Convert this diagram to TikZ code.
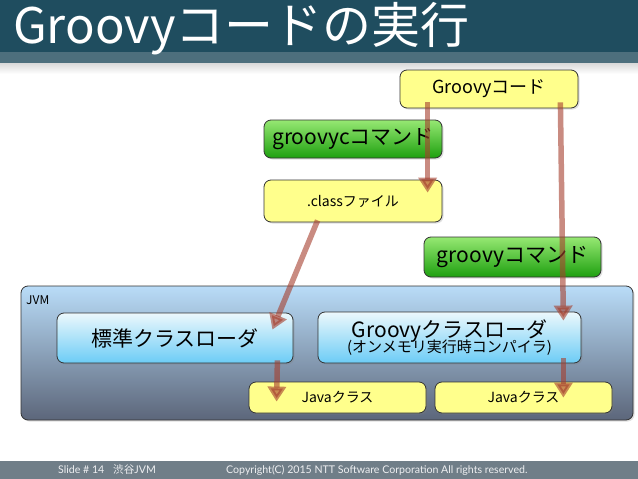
\documentclass[tikz,border=0pt]{standalone}
\usepackage{fontspec}
\setmainfont{Noto Sans CJK JP}
\newfontfamily\footfont{Lato}
\usetikzlibrary{arrows.meta,shadows}

\definecolor{titlebar}{RGB}{31,77,95}
\definecolor{titleband}{RGB}{77,111,125}
\definecolor{footbar}{RGB}{112,126,136}
\definecolor{codeyellow}{RGB}{255,255,140}
\definecolor{cmdtop}{RGB}{150,232,115}
\definecolor{cmdbottom}{RGB}{30,160,15}
\definecolor{jvmtop}{RGB}{185,220,248}
\definecolor{jvmbottom}{RGB}{92,102,122}
\definecolor{cltop}{RGB}{236,248,252}
\definecolor{clbottom}{RGB}{108,204,246}
\definecolor{flowred}{RGB}{165,62,45}

\newcommand{\fs}[1]{\fontsize{#1}{#1}\selectfont}

\begin{document}
\begin{tikzpicture}[x=1pt, y=-1pt,
    box/.style={draw=black!80, line width=0.8pt, rounded corners=7pt, align=center, inner sep=0pt,
      drop shadow={shadow xshift=1.5pt, shadow yshift=-1.5pt, opacity=0.25}},
    filebox/.style={box, fill=codeyellow},
    cmdbox/.style={box, top color=cmdtop, bottom color=cmdbottom},
    loaderbox/.style={box, top color=cltop, bottom color=clbottom},
    flow/.style={line width=5.5pt, draw=flowred, opacity=0.6, -{Triangle[width=18pt, length=15pt]}}]
      \useasboundingbox (0,0) rectangle (638,479);
      \fill[white] (0,0) rectangle (638,479);

      % title and footer
      \fill[titlebar]  (0,0)  rectangle (638,52);
      \fill[titleband] (0,52) rectangle (638,63);
      \shade[top color=black!15, bottom color=white] (0,63) rectangle (638,74);
      \node[anchor=base west, text=white, inner sep=0pt] (title) at (13,43) {\fs{49}Groovyコードの実行};

      \fill[footbar] (0,461) rectangle (638,479);
      \node[anchor=base west, inner sep=0pt, text=white!88!footbar, font=\footfont] (slide) at (58,473)  {\fs{10.6}Slide \# 14};
      \node[anchor=base west, inner sep=0pt, text=white!88!footbar, font=\footfont] (jug)   at (113,473) {\fs{10.6}{\rmfamily 渋谷}JVM};
      \node[anchor=base west, inner sep=0pt, text=white!88!footbar, font=\footfont] (copy)  at (226,473) {\fs{10.6}Copyright(C) 2015 NTT Software Corporation All rights reserved.};

      % boxes
      \node[filebox, minimum width=178pt, minimum height=38pt] (gcode) at (489,89)  {\fs{18}Groovyコード};
      \node[cmdbox,  minimum width=178pt, minimum height=38pt] (gcmd)  at (353,139) {\fs{21}groovycコマンド};
      \node[filebox, minimum width=178pt, minimum height=42pt] (cfile) at (353,201) {\fs{14}.classファイル};
      \node[cmdbox,  minimum width=177pt, minimum height=40pt] (ycmd)  at (512.5,257) {\fs{21}groovyコマンド};

      \node[box, top color=jvmtop, bottom color=jvmbottom, minimum width=612pt, minimum height=134pt] (jvm) at (327,353) {};
      \node[anchor=base west, inner sep=0pt] (jvmlabel) at (26,304) {\fs{12}JVM};

      \node[loaderbox, minimum width=236pt, minimum height=50pt] (stdcl) at (175,338)   {\fs{21}標準クラスローダ};
      \node[loaderbox, minimum width=263pt, minimum height=51pt] (gycl)  at (449.5,337.5)
        {{\fs{21}Groovyクラスローダ}\\[-4pt]{\fs{15}(オンメモリ実行時コンパイラ)}};
      \node[filebox, minimum width=177pt, minimum height=31pt] (jc1) at (337.5,397.5) {\fs{14}Javaクラス};
      \node[filebox, minimum width=177pt, minimum height=31pt] (jc2) at (523.5,397.5) {\fs{14}Javaクラス};

      % flows
      \draw[flow] ([xshift=28pt, yshift=6pt]gcode.south west)  -- ([xshift=164pt, yshift=-13pt]cfile.north west);
      \draw[flow] ([xshift=54pt, yshift=2pt]cfile.south west)  -- ([xshift=-21pt, yshift=-17pt]stdcl.north east);
      \draw[flow] ([xshift=-18pt, yshift=6pt]gcode.south east) -- ([xshift=-18pt, yshift=-9pt]gycl.north east);
      \draw[flow] ([xshift=-16pt, yshift=3pt]stdcl.south east) -- ([xshift=28pt, yshift=-20pt]jc1.north west);
      \draw[flow] ([xshift=-18pt, yshift=5pt]gycl.south east)  -- ([xshift=-49pt, yshift=-16pt]jc2.north east);
\end{tikzpicture}
\end{document}
